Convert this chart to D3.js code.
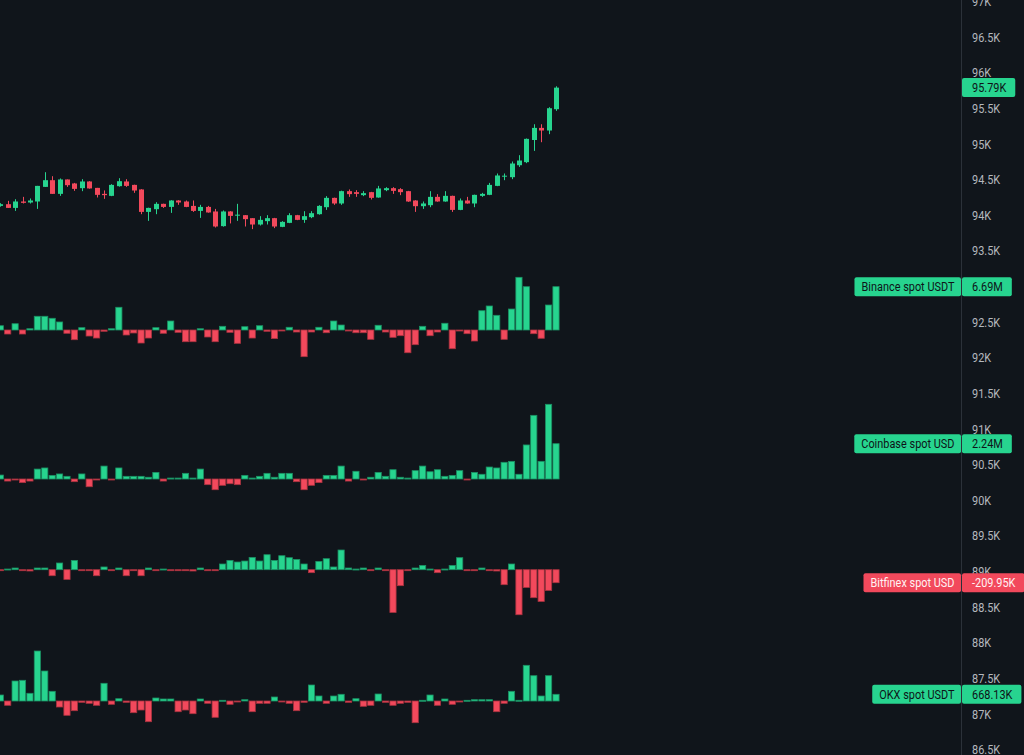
<!DOCTYPE html>
<html><head><meta charset="utf-8">
<script src="https://cdn.jsdelivr.net/npm/d3@7"></script>
<style>html,body{margin:0;padding:0;background:#10151b;overflow:hidden}</style>
</head><body><svg id="c" width="1024" height="755"></svg>
<script>
// ---- DATA ----
const opens = [94130,94154,94102,94192,94178,94192,94397,94491,94299,94501,94445,94379,94473,94383,94299,94271,94407,94473,94425,94361,
94046,94084,94159,94116,94206,94192,94130,94060,94116,94052,93846,94052,93993,94000,93958,93869,93916,93958,93836,93892,
94000,93934,93972,94014,94112,94243,94164,94337,94323,94281,94323,94248,94351,94379,94365,94337,94206,94126,94140,94257,
94192,94271,94074,94206,94164,94271,94285,94411,94540,94533,94701,94744,95055,95225,95188,95487];
const closes = [94154,94102,94192,94173,94206,94411,94491,94299,94501,94421,94369,94473,94375,94285,94281,94425,94477,94411,94346,94046,
94102,94159,94116,94206,94178,94116,94060,94116,94038,93841,94052,93990,94007,93944,93869,93934,93958,93841,93906,94000,
93934,93986,94028,94130,94243,94164,94337,94295,94299,94309,94243,94375,94379,94341,94323,94192,94126,94164,94257,94192,
94271,94074,94206,94164,94285,94299,94425,94557,94554,94725,94767,95071,95225,95188,95501,95790];
const highs = [94168,94201,94224,94257,94234,94411,94603,94547,94515,94501,94453,94505,94477,94383,94347,94435,94519,94505,94428,94365,
94105,94182,94161,94210,94210,94206,94206,94145,94130,94088,94066,94056,94159,94000,93958,93986,94000,93962,93916,94028,
94004,94056,94056,94140,94267,94246,94344,94361,94351,94337,94327,94411,94393,94393,94379,94341,94210,94192,94337,94295,
94337,94274,94234,94257,94288,94313,94453,94585,94585,94753,94842,95076,95276,95276,95515,95809];
const lows = [94119,94102,94060,94164,94164,94088,94397,94299,94271,94397,94341,94337,94372,94248,94229,94267,94400,94397,94313,94014,
93920,94014,94102,94032,94145,94112,94046,93962,94035,93827,93839,93884,93920,93841,93804,93855,93869,93818,93832,93888,
93930,93892,93958,94007,94074,94145,94145,94257,94257,94267,94220,94245,94337,94299,94281,94187,94046,94088,94112,94189,
94189,94046,94070,94161,94112,94257,94281,94407,94491,94505,94677,94730,94902,95024,95137,95464];

// Binance spot USDT (millions)
const binanceVals = [0.66,-0.62,0.97,-0.62,0.20,2.12,2.12,1.81,1.24,-0.51,-1.50,0.36,-0.93,-1.24,-0.20,0.20,3.51,-0.77,-0.46,-2.01,
-1.24,0.36,-0.51,1.39,-0.36,-1.81,-1.81,0.20,-1.08,-1.81,0.57,-0.36,-2.06,0.51,-1.24,0.66,-0.20,-1.33,-0.11,0.42,
-0.31,-4.12,-0.31,0.42,-0.42,1.39,0.77,-0.08,-0.42,-0.42,-1.44,0.73,-0.31,-1.13,-0.88,-3.51,-2.27,0.57,-0.88,-0.31,
1.04,-2.89,-0.05,-0.57,-1.70,2.98,3.71,2.27,-1.44,3.24,8.14,6.69,-0.57,-1.28,3.86,6.69];
// Coinbase spot USD (millions)
const coinbaseVals = [0.25,-0.13,-0.03,-0.23,-0.13,0.63,0.70,0.23,0.32,0.17,-0.17,0.32,-0.49,-0.06,0.82,-0.02,0.70,0.17,0.17,0.17,
0.11,0.42,-0.13,0.06,0.06,0.36,0.06,0.63,-0.36,-0.68,-0.40,-0.30,-0.36,0.23,0.06,0.17,0.36,0.11,0.36,0.36,
-0.17,-0.68,-0.40,-0.23,0.23,0.23,0.82,-0.13,0.49,-0.06,0.11,0.42,0.17,0.59,0.11,0.06,0.53,0.82,0.46,0.59,
0.17,0.23,0.53,-0.06,0.42,0.30,0.76,0.70,1.06,1.12,0.30,2.16,4.04,1.12,4.74,2.24];
// Bitfinex spot USD (thousands)
const bitfinexVals = [-5,11,27,-8,-21,27,27,-97,108,-157,150,-8,-8,-97,44,-8,27,-97,-8,-97,
27,-8,11,-8,-8,-8,-21,27,-8,-8,92,150,124,140,199,140,242,150,226,194,
166,92,-48,134,178,44,318,27,11,27,-8,27,-8,-690,-258,-8,27,69,11,-48,
11,69,194,-8,-8,27,-8,-21,-242,92,-727,-286,-452,-512,-334,-209.95];
// OKX spot USDT (thousands)
const okxVals = [598,-429,1994,2064,768,4985,2991,967,-598,-1426,-967,-130,-229,-429,1765,-329,229,-130,-1166,-897,
-2064,299,199,199,-1067,-897,-1266,199,-229,-1625,70,-329,-70,130,-1067,-229,-229,399,-70,-229,
-967,-130,1595,498,-229,498,668,-130,229,-528,-429,698,-130,-429,-229,-130,-2164,70,598,-429,
199,-329,-70,70,130,130,130,-1067,-229,967,70,3559,2523,498,2523,668.13];

const panelNames = ["Binance spot USDT","Coinbase spot USD","Bitfinex spot USD","OKX spot USDT"];
const panelUnits = ["M","M","K","K"];
const tickValues = [97000,96500,96000,95500,95000,94500,94000,93500,93000,92500,92000,91500,91000,90500,90000,89500,89000,88500,88000,87500,87000,86500];
const tickLabels = ["97K","96.5K","96K","95.5K","95K","94.5K","94K","93.5K","93K","92.5K","92K","91.5K","91K","90.5K","90K","89.5K","89K","88.5K","88K","87.5K","87K","86.5K"];

// ---- STYLE / LAYOUT ----
const GREEN = "#27d48f", RED = "#f2495c";
const GREEN_D = "#1b8f63", RED_D = "#a9323f";
const FONT = "Roboto,sans-serif";
const FS = "13px", SX = 0.84;   // condensed look
const svg = d3.select("#c");
svg.append("rect").attr("width",1024).attr("height",755).attr("fill","#10151b");

const n = opens.length;
const x = d3.scaleLinear().domain([0, n-1]).range([0.3, 556]);
const y = d3.scaleLinear().domain([86500, 97000]).range([749.6, 1.4]);

// axis
svg.append("line").attr("x1",961.5).attr("x2",961.5).attr("y1",0).attr("y2",755)
  .attr("stroke","#2b3139").attr("stroke-width",1);
const ax = svg.append("g").attr("transform","translate(962,0)")
  .call(d3.axisRight(y).tickValues(tickValues).tickSize(0).tickPadding(10)
        .tickFormat((d,i)=>tickLabels[i]));
ax.select(".domain").remove();
ax.selectAll("text").attr("fill","#b4b8be").style("font-family",FONT).style("font-size",FS)
  .attr("x", 10/SX).attr("transform",`scale(${SX},1)`);

// volume panels
const panels = [
  {vals: binanceVals, base: 330, k: 43.3/6.69},
  {vals: coinbaseVals, base: 479, k: 35.3/2.24},
  {vals: bitfinexVals, base: 569.7, k: 13/209.95},
  {vals: okxVals, base: 701, k: 6.7/668.13}
];
panels.forEach((p,pi)=>{
  const s = d3.scaleLinear().domain([0,1]).range([p.base, p.base - p.k]);
  p.scale = s;
  svg.append("g").selectAll("rect").data(p.vals).join("rect")
    .attr("x",(d,i)=>x(i)-3.1)
    .attr("width",6.2)
    .attr("y",d=>Math.min(s(0),s(d)))
    .attr("height",d=>Math.max(1,Math.abs(s(d)-s(0))))
    .attr("fill",d=>d>=0?GREEN:RED)
    .attr("stroke",d=>d>=0?GREEN_D:RED_D)
    .attr("stroke-width",0.8);
});

// candles
const cg = svg.append("g");
d3.range(n).forEach(i=>{
  const up = closes[i] >= opens[i];
  const col = up ? GREEN : RED;
  const cx = Math.round(x(i)) + 0.5;
  cg.append("line").attr("x1",cx).attr("x2",cx).attr("y1",y(highs[i])).attr("y2",y(lows[i]))
    .attr("stroke",col).attr("stroke-width",1);
  const top = y(Math.max(opens[i],closes[i])), bot = y(Math.min(opens[i],closes[i]));
  cg.append("rect").attr("x",cx-2.5).attr("width",5).attr("y",top).attr("height",Math.max(1,bot-top))
    .attr("fill",col);
});

// labels
function valueBox(yc, txt, fill, tcol){
  const g = svg.append("g");
  const r = g.append("rect").attr("x",962).attr("y",yc-9.5).attr("height",19).attr("rx",2).attr("fill",fill);
  const t = g.append("text").attr("transform",`translate(972,${yc}) scale(${SX},1)`).attr("dy","0.35em").text(txt)
    .attr("fill",tcol).style("font-family",FONT).style("font-size",FS);
  r.attr("width", t.node().getComputedTextLength()*SX + 19);
}
function nameBox(yc, txt, fill, tcol){
  const g = svg.append("g");
  const r = g.append("rect").attr("y",yc-9.5).attr("height",19).attr("rx",2).attr("fill",fill);
  const t = g.append("text").attr("transform",`translate(954.5,${yc}) scale(${SX},1)`).attr("dy","0.35em")
    .attr("text-anchor","end").text(txt)
    .attr("fill",tcol).style("font-family",FONT).style("font-size",FS);
  const w = t.node().getComputedTextLength()*SX;
  r.attr("x",954.5 - w - 7).attr("width", w + 13.5);
}
// price label
valueBox(y(closes[n-1]), (closes[n-1]/1000).toFixed(2)+"K", GREEN, "#0e1318");
panels.forEach((p,pi)=>{
  const v = p.vals[p.vals.length-1];
  const yc = p.scale(v);
  const up = v >= 0;
  const fill = up ? GREEN : RED;
  const tcol = up ? "#0e1318" : "#fff2f3";
  nameBox(yc, panelNames[pi], fill, tcol);
  valueBox(yc, v.toFixed(2) + panelUnits[pi], fill, tcol);
});
</script></body></html>
